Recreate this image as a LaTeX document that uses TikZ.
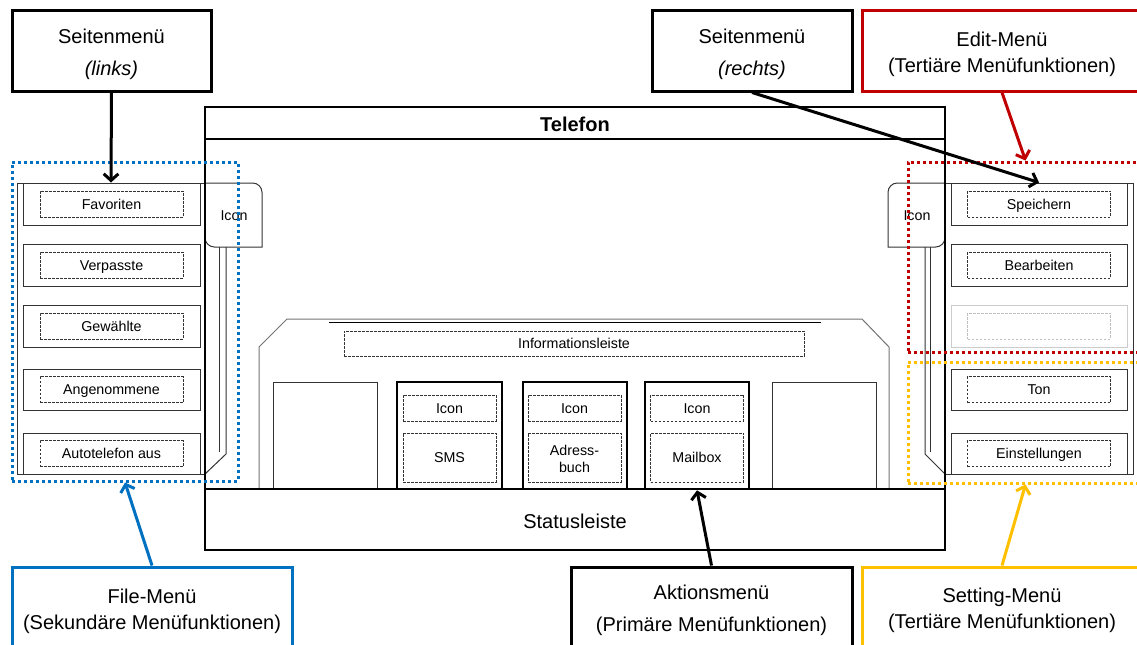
\documentclass[tikz,border=0pt]{standalone}
\usepackage{fontspec}
\setmainfont{Liberation Sans}
\usetikzlibrary{arrows.meta,fit}

\definecolor{fileblue}{RGB}{0,112,192}
\definecolor{editred}{RGB}{192,0,0}
\definecolor{setyellow}{RGB}{255,192,0}

\begin{document}
\begin{tikzpicture}[x=0.75pt,y=-0.75pt,
  callout/.style={draw,line width=2.25pt,inner sep=0pt},
  callouttext/.style={anchor=base,align=center,inner sep=0pt,font=\fontsize{15}{24}\selectfont},
  tagtext/.style={callouttext,font=\fontsize{15}{19}\selectfont},
  menuitem/.style={draw=black!80,line width=0.75pt,inner sep=0pt},
  slot/.style={draw=black!80,dash pattern=on 2pt off 1pt,line width=0.6pt,inner sep=0pt,
    minimum width=107.25pt,minimum height=19.5pt,text height=7.7pt,text depth=0pt,
    font=\fontsize{10.7}{13}\selectfont},
  actslot/.style={slot,minimum width=69.75pt,align=center},
  action/.style={draw,line width=2pt,inner sep=0pt},
  plainbox/.style={draw=black!80,line width=0.75pt,inner sep=0pt},
  group/.style={line width=2.25pt,dash pattern=on 2.25pt off 2.25pt,inner sep=0pt},
  link/.style={line width=2.25pt,-{Straight Barb[length=5pt,width=11pt]}}]
\useasboundingbox (0,0) rectangle (1137,644);
\clip (0,0) rectangle (1137,644);

% Gehaeuse mit Infoleiste
\draw[black!55,line width=0.75pt] (259,489) -- (259,347) -- (287,319) -- (862,319) -- (889,347) -- (889,489);
\draw[line width=0.75pt] (329,322) -- (821,322);
\node[slot,minimum width=345pt,minimum height=18.75pt] (info) at (574,343.5) {Informationsleiste};

% Aktionsleiste
\node[plainbox,fit={(273,382) (377,489)}] (b1) {};
\node[action,fit={(397,382) (502,489)}] (b2) {};
\node[actslot] (b2i) at (449.5,408) {Icon};
\node[actslot,minimum height=36.75pt] (b2t) at (449.5,457.5) {SMS};
\node[action,fit={(523,382) (627,489)}] (b3) {};
\node[actslot] (b3i) at (574.5,408) {Icon};
\node[actslot,minimum height=36.75pt] (b3t) at (574.5,457.5) {};
\node[align=center,font=\fontsize{10.7}{13}\selectfont] (b3label) at (574.5,459) {Adress-\\buch};
\node[action,fit={(645,382) (749,489)}] (b4) {};
\node[actslot] (b4i) at (697,408) {Icon};
\node[actslot,minimum height=36.75pt] (b4t) at (697,457.5) {Mailbox};
\node[plainbox,fit={(772,382) (876,489)}] (b5) {};

% Seitenmenue links
\node[menuitem,fit={(17,183) (205,474)}] (lpanel) {};
\node[menuitem,fit={(23,183) (200,225)}] (l1) {};
\node[slot] at (l1) {Favoriten};
\node[menuitem,fit={(23,244) (200,286)}] (l2) {};
\node[slot] at (l2) {Verpasste};
\node[menuitem,fit={(23,305) (200,347)}] (l3) {};
\node[slot] at (l3) {Gewählte};
\node[menuitem,fit={(23,369) (200,410)}] (l4) {};
\node[slot] at (l4) {Angenommene};
\node[menuitem,fit={(23,433) (200,474)}] (l5) {};
\node[slot] at (l5) {Autotelefon aus};

% Seitenmenue rechts
\node[menuitem,fit={(945,183) (1133,474)}] (rpanel) {};
\node[menuitem,fit={(951,183) (1127,225)}] (r1) {};
\node[slot] at (r1) {Speichern};
\node[menuitem,fit={(951,244) (1127,286)}] (r2) {};
\node[slot] at (r2) {Bearbeiten};
\node[menuitem,draw=black!20,fit={(951,305) (1127,347)}] (r3) {};
\node[slot,draw=black!25] at (r3) {};
\node[menuitem,fit={(951,369) (1127,410)}] (r4) {};
\node[slot] at (r4) {Ton};
\node[menuitem,fit={(951,433) (1127,474)}] (r5) {};
\node[slot] at (r5) {Einstellungen};

% Reiter mit Schiene
\draw[black!80,line width=0.75pt] (205,183) [rounded corners=7pt] -- (262,183) [sharp corners] -- (262,247)
  [rounded corners=7pt] -- (205,247) [sharp corners] -- cycle;
\node[font=\fontsize{10.7}{13}\selectfont] (licon) at (234,216) {Icon};
\draw[black!80,line width=0.75pt] (219,247) -- (219,452);
\draw[black!80,line width=0.75pt] (226,247) -- (226,454) -- (205,474);
\draw[black!80,line width=0.75pt] (945,183) [rounded corners=7pt] -- (888,183) [sharp corners] -- (888,247)
  [rounded corners=7pt] -- (945,247) [sharp corners] -- cycle;
\node[font=\fontsize{10.7}{13}\selectfont] (ricon) at (917,216) {Icon};
\draw[black!80,line width=0.75pt] (930,247) -- (930,452);
\draw[black!80,line width=0.75pt] (925,247) -- (925,454) -- (945,474);

% Telefon
\draw[line width=1.5pt] (205,107) rectangle (945,550);
\draw[line width=1.5pt] (205,139) -- (945,139);
\draw[line width=2pt] (205,489) -- (945,489);
\node[font=\fontsize{15}{18}\selectfont\bfseries] (title) at (575,124) {Telefon};
\node[font=\fontsize{15}{18}\selectfont] (status) at (575,521) {Statusleiste};

% Menuegruppen
\node[group,draw=fileblue,fit={(12,162) (238,481)}] (filegrp) {};
\node[group,draw=editred,fit={(908,162) (1143,352)}] (editgrp) {};
\node[group,draw=setyellow,fit={(908,362) (1143,483)}] (setgrp) {};

% Beschriftungen (base = Grundlinie der letzten Zeile)
\node[callout,fit={(12,10) (211,91)}] (sml) {};
\node[callouttext] (smltext) at (111.5,75) {Seitenmenü\\\textit{(links)}};
\node[callout,fit={(652,10) (852,91)}] (smr) {};
\node[callouttext] (smrtext) at (752,75) {Seitenmenü\\\textit{(rechts)}};
\node[callout,draw=editred,fit={(862,10) (1142,91)}] (em) {};
\node[tagtext] (emtext) at (1002,72) {Edit-Menü\\(Tertiäre Menüfunktionen)};
\node[callout,draw=fileblue,fit={(12,567) (292,652)}] (fm) {};
\node[tagtext] (fmtext) at (152,629) {File-Menü\\(Sekundäre Menüfunktionen)};
\node[callout,fit={(571,567) (852,652)}] (am) {};
\node[callouttext] (amtext) at (711.5,631) {Aktionsmenü\\(Primäre Menüfunktionen)};
\node[callout,draw=setyellow,fit={(862,567) (1142,652)}] (sm) {};
\node[tagtext] (smtext) at (1002,628) {Setting-Menü\\(Tertiäre Menüfunktionen)};

\draw[link] (sml.south) -- (lpanel.north);
\draw[link] (smr.south) -- (r1.north);
\draw[link,editred] (em.south) -- (editgrp.north);
\draw[link,fileblue] (fm.north) -- (filegrp.south);
\draw[link] (am.north) -- (b4.south);
\draw[link,setyellow] (sm.north) -- (setgrp.south);
\end{tikzpicture}
\end{document}
